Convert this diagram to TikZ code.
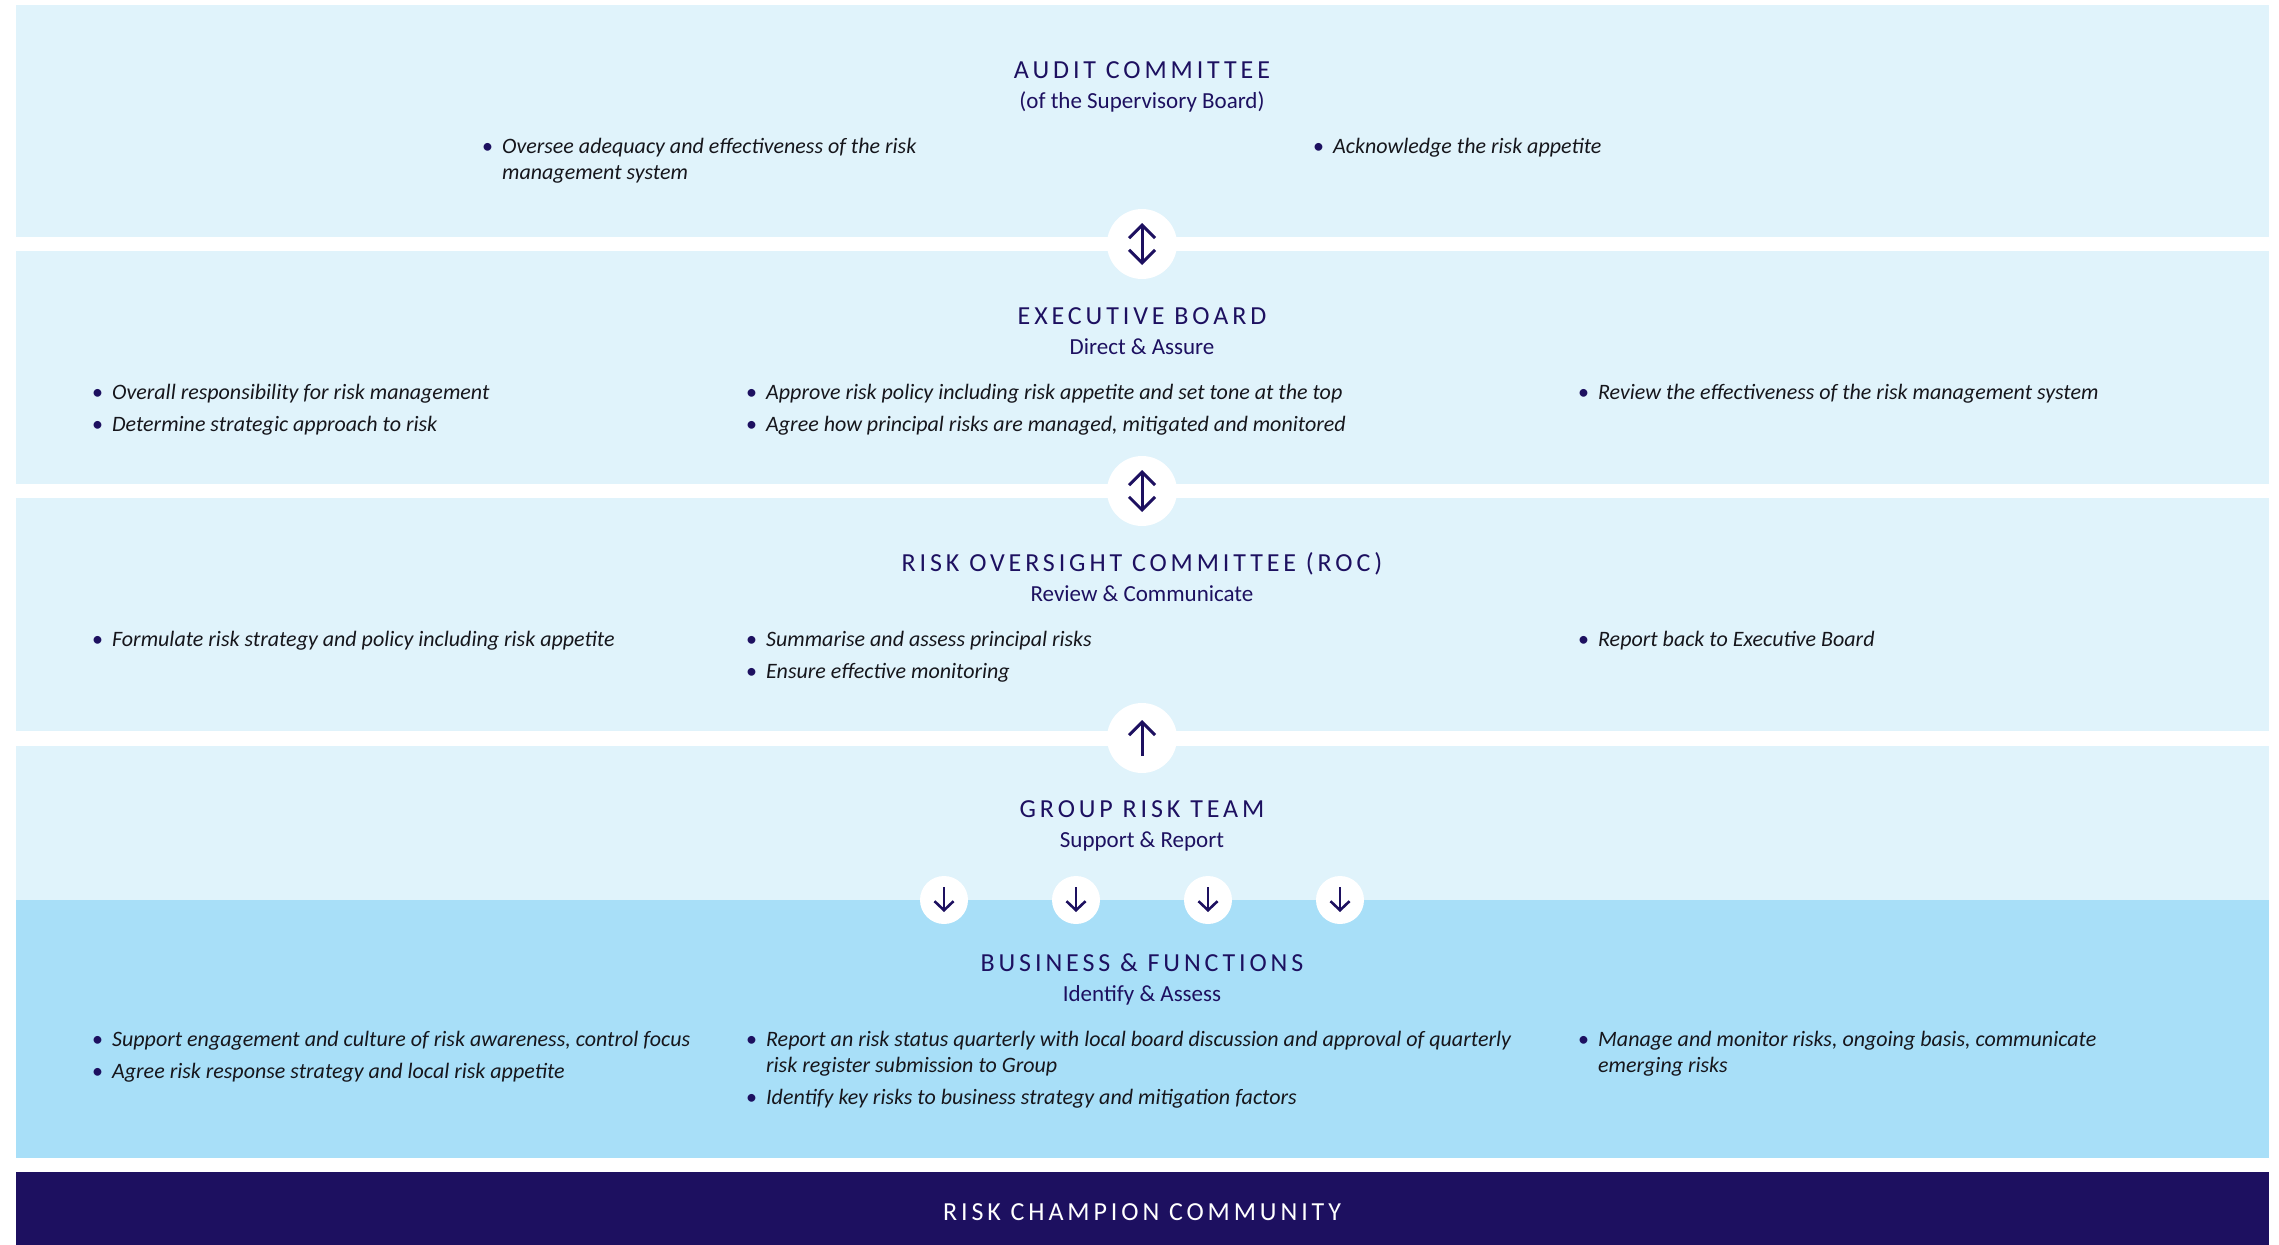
\documentclass[tikz,border=0pt]{standalone}
\usepackage{fontspec}
\setmainfont{Carlito}
\newfontfamily\titlefont[LetterSpace=15]{Carlito}
\usetikzlibrary{arrows.meta,calc}
\definecolor{navy}{HTML}{1D1060}
\definecolor{lightband}{HTML}{E0F3FB}
\definecolor{midband}{HTML}{A8DFF8}
\definecolor{bodytext}{HTML}{16161C}
\newcommand\bitem[1]{\begin{tabular}[t]{@{}l@{\hspace{9pt}}l@{}}{\upshape\textcolor{navy}{\textbullet}} & #1\end{tabular}}
\tikzset{
  ttl/.style={anchor=base, inner sep=0, text=navy, font=\titlefont\fontsize{26}{30}\selectfont},
  sub/.style={anchor=base, inner sep=0, text=navy, font=\fontsize{23}{27}\selectfont},
  itm/.style={anchor=base west, inner sep=0, text=bodytext, font=\itshape\fontsize{22}{26}\selectfont},
  bigc/.style={circle, fill=white, minimum size=70pt, inner sep=0},
  smallc/.style={circle, fill=white, minimum size=48pt, inner sep=0},
  bigarr/.style={draw=navy, line width=3pt, arrows={-Straight Barb[length=13pt,width=26pt]}},
  bigdbl/.style={draw=navy, line width=3pt, arrows={Straight Barb[length=13pt,width=26pt]-Straight Barb[length=13pt,width=26pt]}},
  smallarr/.style={draw=navy, line width=2.6pt, arrows={-Straight Barb[length=9pt,width=19pt]}}
}
\begin{document}
\begin{tikzpicture}[x=1pt,y=-1pt]
\useasboundingbox (0,0) rectangle (2279,1245);
% bands
\fill[lightband] (16,5) rectangle (2269,237);
\fill[lightband] (16,251) rectangle (2269,484);
\fill[lightband] (16,498) rectangle (2269,731);
\fill[lightband] (16,746) rectangle (2269,900);
\fill[midband] (16,900) rectangle (2269,1158);
\fill[navy] (16,1172) rectangle (2269,1245);

% audit committee
\node[ttl] (t1) at (1142,78) {AUDIT COMMITTEE};
\node[sub] (s1) at (1142,108) {(of the Supervisory Board)};
\node[itm] (a1) at (482,153) {\bitem{Oversee adequacy and effectiveness of the risk\\ & management system}};
\node[itm] (a2) at (1313,153) {\bitem{Acknowledge the risk appetite}};

% executive board
\node[ttl] (t2) at (1142,324) {EXECUTIVE BOARD};
\node[sub] (s2) at (1142,354) {Direct \& Assure};
\node[itm] (e1) at (92,399) {\bitem{Overall responsibility for risk management}};
\node[itm] (e2) at (92,431) {\bitem{Determine strategic approach to risk}};
\node[itm] (e3) at (746,399) {\bitem{Approve risk policy including risk appetite and set tone at the top}};
\node[itm] (e4) at (746,431) {\bitem{Agree how principal risks are managed, mitigated and monitored}};
\node[itm] (e5) at (1578,399) {\bitem{Review the effectiveness of the risk management system}};

% risk oversight committee
\node[ttl] (t3) at (1142,571) {RISK OVERSIGHT COMMITTEE (ROC)};
\node[sub] (s3) at (1142,601) {Review \& Communicate};
\node[itm] (r1) at (92,646) {\bitem{Formulate risk strategy and policy including risk appetite}};
\node[itm] (r2) at (746,646) {\bitem{Summarise and assess principal risks}};
\node[itm] (r3) at (746,678) {\bitem{Ensure effective monitoring}};
\node[itm] (r4) at (1578,646) {\bitem{Report back to Executive Board}};

% group risk team
\node[ttl] (t4) at (1142,817) {GROUP RISK TEAM};
\node[sub] (s4) at (1142,847) {Support \& Report};

% business & functions
\node[ttl] (t5) at (1142,971) {BUSINESS \& FUNCTIONS};
\node[sub] (s5) at (1142,1001) {Identify \& Assess};
\node[itm] (b1) at (92,1046) {\bitem{Support engagement and culture of risk awareness, control focus}};
\node[itm] (b2) at (92,1078) {\bitem{Agree risk response strategy and local risk appetite}};
\node[itm] (b3) at (746,1046) {\bitem{Report an risk status quarterly with local board discussion and approval of quarterly\\ & risk register submission to Group}};
\node[itm] (b4) at (746,1104) {\bitem{Identify key risks to business strategy and mitigation factors}};
\node[itm] (b5) at (1578,1046) {\bitem{Manage and monitor risks, ongoing basis, communicate\\ & emerging risks}};

% risk champion community
\node[ttl, text=white] (t6) at (1142,1220) {RISK CHAMPION COMMUNITY};

% circles with arrows
\node[bigc] (c1) at (1142,244) {};
\node[bigc] (c2) at (1142,491) {};
\node[bigc] (c3) at (1142,738) {};
\draw[bigdbl] ($(c1)+(0,-21)$) -- ($(c1)+(0,21)$);
\draw[bigdbl] ($(c2)+(0,-21)$) -- ($(c2)+(0,21)$);
\draw[bigarr] ($(c3)+(0,18)$) -- ($(c3)+(0,-18)$);

\node[smallc] (d1) at (944,900) {};
\node[smallc] (d2) at (1076,900) {};
\node[smallc] (d3) at (1208,900) {};
\node[smallc] (d4) at (1340,900) {};
\foreach \d in {d1,d2,d3,d4}
  \draw[smallarr] ($(\d)+(0,-13)$) -- ($(\d)+(0,12)$);
\end{tikzpicture}
\end{document}
